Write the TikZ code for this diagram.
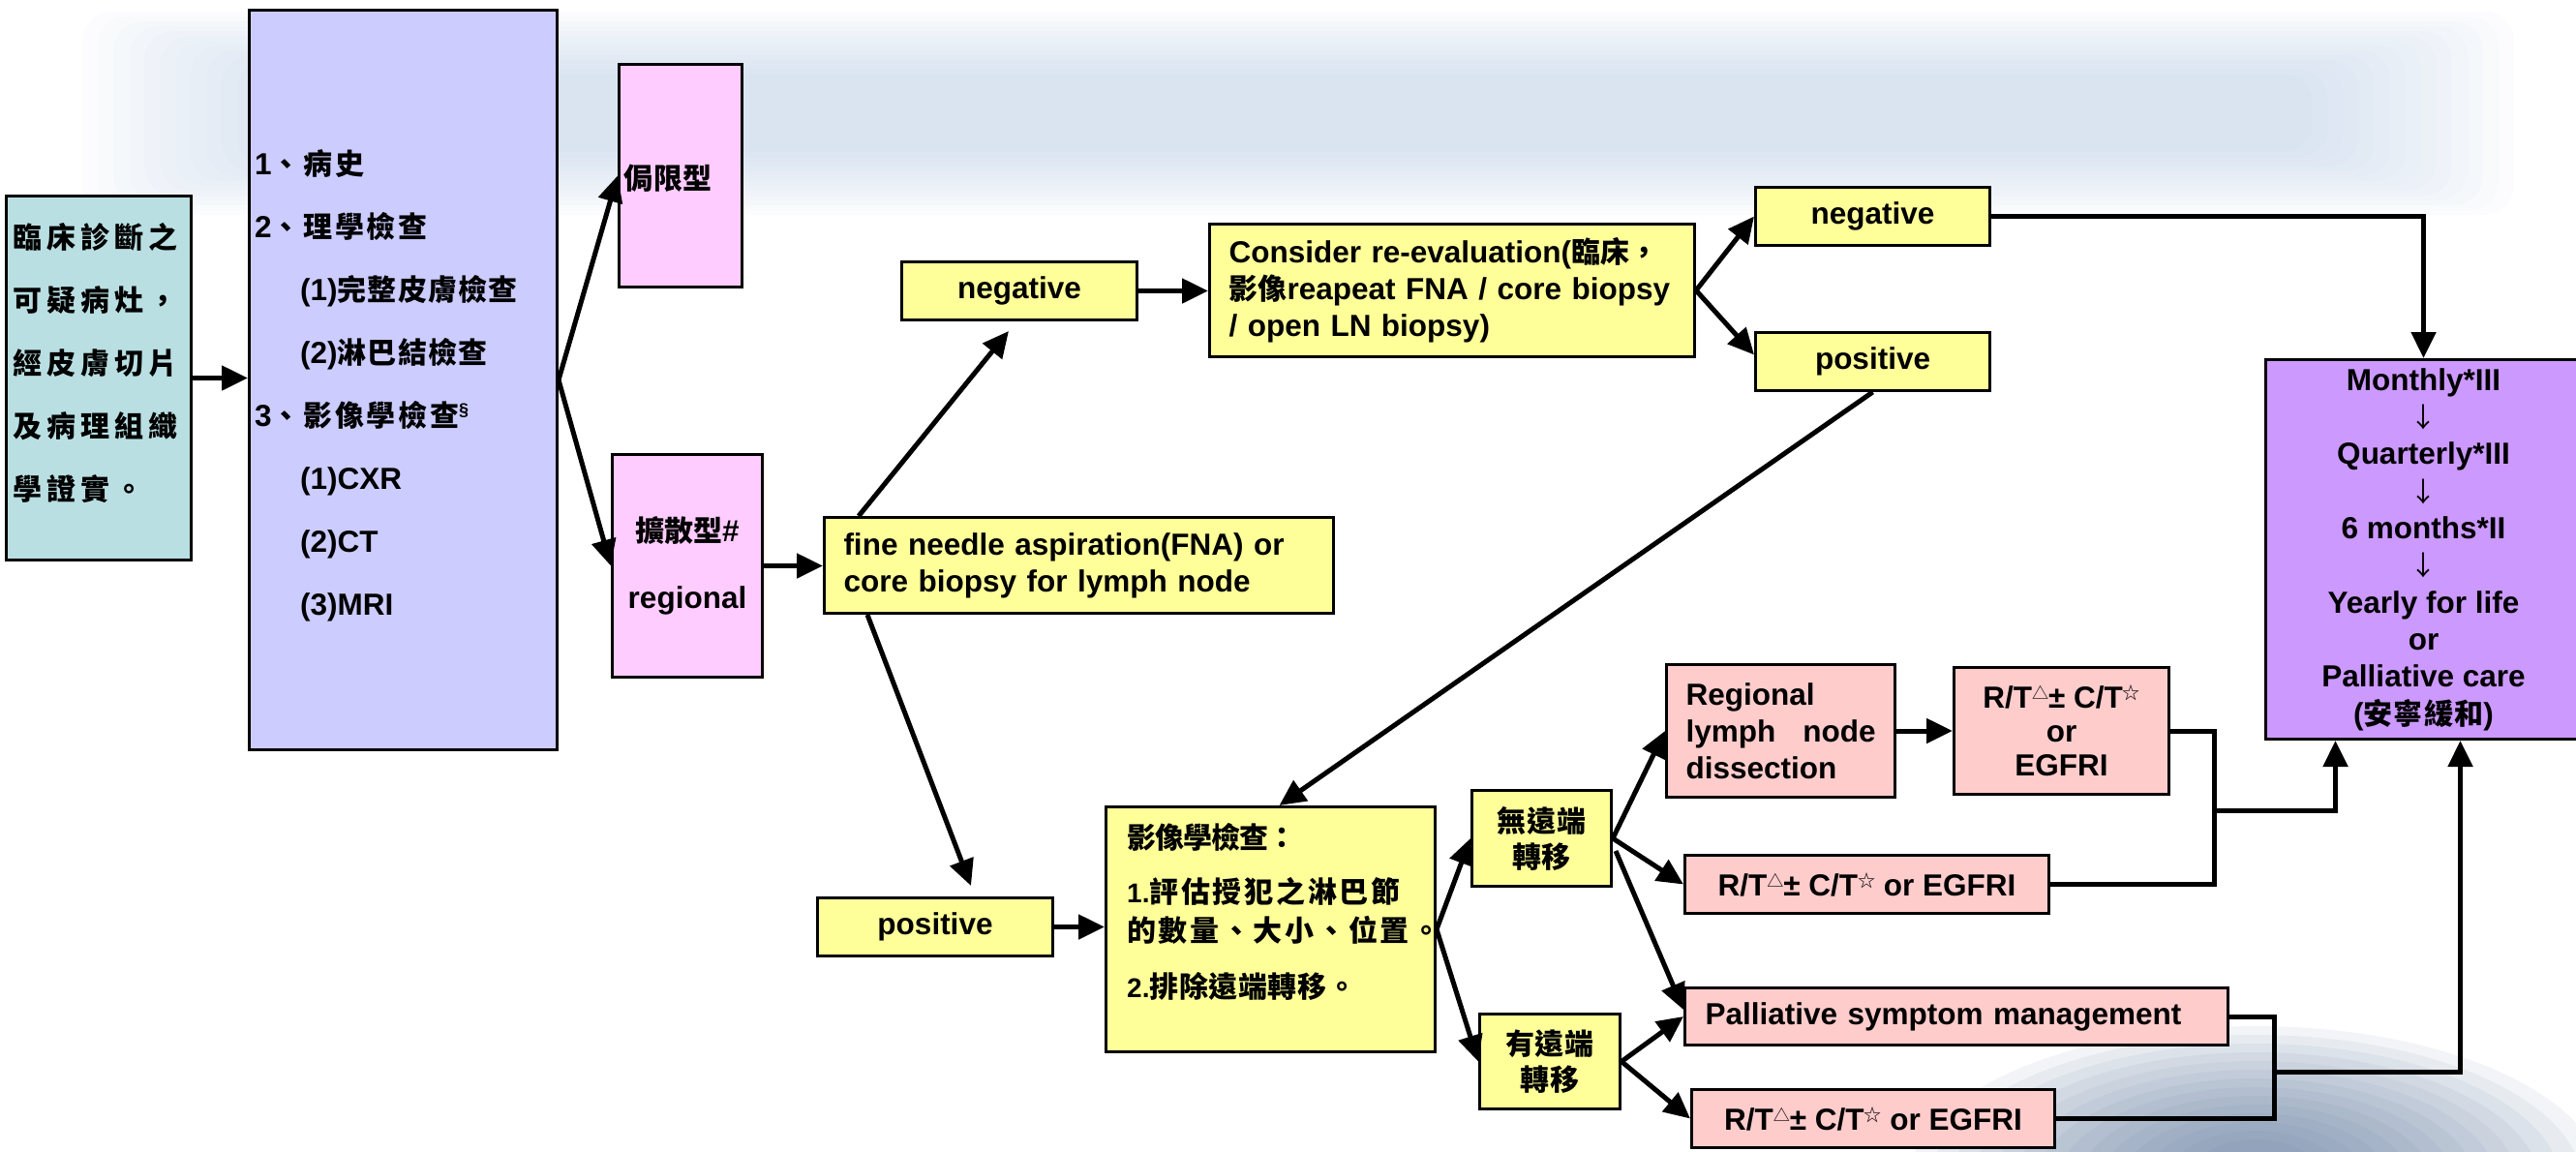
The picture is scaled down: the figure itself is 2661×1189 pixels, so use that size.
\documentclass[tikz,border=0pt]{standalone}
\usepackage{fontspec}
\setmainfont{Liberation Sans}
\newfontfamily\zhfont{Noto Sans CJK TC}
\usetikzlibrary{arrows.meta,calc}
\definecolor{tealbox}{RGB}{185,223,226}
\definecolor{lavbox}{RGB}{204,204,255}
\definecolor{pinkbox}{RGB}{255,204,255}
\definecolor{yelbox}{RGB}{255,255,153}
\definecolor{rosebox}{RGB}{255,204,204}
\definecolor{purpbox}{RGB}{204,153,255}
\definecolor{cloudA}{RGB}{175,197,225}
\definecolor{cloudB}{RGB}{95,120,155}
\newcommand\zhtxt[2][3]{{\fontsize{30}{\baselineskip}\zhfont\bfseries\addfontfeatures{LetterSpace=#1}#2}}
\newcommand\suptri{\raisebox{9pt}{\fontsize{17}{17}\zhfont\mdseries △}}
\newcommand\supstar{\raisebox{9pt}{\fontsize{18}{18}\zhfont\mdseries ☆}}
\newcommand\supsec{\raisebox{11pt}{\fontsize{18}{18}\selectfont §}}
\newcommand\darrow{{\fontsize{28}{38.3}\zhfont\mdseries ↓}}
\newcommand\rtline{R/T\suptri± C/T\supstar}
\tikzset{
    box/.style={draw=black, line width=3pt, anchor=north west, inner sep=0pt,
        font=\bfseries\fontsize{31.5}{38}\selectfont},
    txt/.style={inner sep=0pt, align=left, font=\bfseries\fontsize{31.5}{65}\selectfont},
    arr/.style={line width=5pt, -{Triangle[length=27pt,width=25pt]}},
    link/.style={line width=5pt},
}

\begin{document}
\begin{tikzpicture}[x=1pt,y=-1pt]
\useasboundingbox (0,0) rectangle (2661,1189);
% sky behind the chart
\foreach \i in {0,...,13}
    \fill[cloudA, opacity=0.045, rounded corners=30pt] (85+\i*16,12+\i*5) rectangle (2597-\i*16,222-\i*5);
\foreach \i in {0,...,13}
    \fill[cloudB, opacity=0.08] (2330,1225) ellipse [x radius={360-\i*22}, y radius={165-\i*9}];

% diagnosis and work-up
\node[box, fill=tealbox, minimum width=191pt, minimum height=376pt] (clin) at (5,201) {};
\node[txt, anchor=west, font=\bfseries\fontsize{28}{65}\selectfont] (clinT) at (13,375)
    {\zhtxt[17]{臨床診斷之}\\\zhtxt[17]{可疑病灶，}\\\zhtxt[17]{經皮膚切片}\\\zhtxt[17]{及病理組織}\\\zhtxt[17]{學證實。}};
\node[box, fill=lavbox, minimum width=318pt, minimum height=764pt] (hist) at (256,9) {};
\node[txt, anchor=west] (histT) at (263,398)
    {1\zhtxt[9]{、病史}\\2\zhtxt[9]{、理學檢查}\\
     \hspace*{47pt}(1)\zhtxt[4]{完整皮膚檢查}\\\hspace*{47pt}(2)\zhtxt[4]{淋巴結檢查}\\
     3\zhtxt[9]{、影像學檢查}\supsec\\\hspace*{47pt}(1)CXR\\\hspace*{47pt}(2)CT\\\hspace*{47pt}(3)MRI};
\node[box, fill=pinkbox, minimum width=127pt, minimum height=230pt] (loc) at (638,65) {};
\node[txt, anchor=west] (locT) at (644,184) {\zhtxt{侷限型}};
\node[box, fill=pinkbox, minimum width=155pt, minimum height=230pt, align=center,
    font=\bfseries\fontsize{31.5}{69}\selectfont] (diff) at (631,468) {\zhtxt[0]{擴散型}\#\\regional};

% lymph node work-up
\node[box, fill=yelbox, minimum width=526pt, minimum height=99pt, inner xsep=20pt, text width=486pt, align=left]
    (fna) at (850,533) {fine needle aspiration(FNA) or\\core biopsy for lymph node};
\node[box, fill=yelbox, minimum width=243pt, minimum height=60pt] (negA) at (930,269) {negative};
\node[box, fill=yelbox, minimum width=243pt, minimum height=60pt] (posA) at (843,926) {positive};
\node[box, fill=yelbox, minimum width=501pt, minimum height=137pt, inner xsep=20pt, text width=461pt, align=left]
    (eval) at (1248,230) {Consider re-evaluation(\zhtxt[0]{臨床，}\\\zhtxt[0]{影像}reapeat FNA / core biopsy\\/ open LN biopsy)};
\node[box, fill=yelbox, minimum width=242pt, minimum height=60pt] (negB) at (1812,192) {negative};
\node[box, fill=yelbox, minimum width=242pt, minimum height=60pt] (posB) at (1812,342) {positive};
\node[box, fill=yelbox, minimum width=340pt, minimum height=253pt] (img) at (1141,832) {};
\node[txt, anchor=west, font=\bfseries\fontsize{28}{40}\selectfont] (imgT) at (1164,942)
    {\zhtxt[-3]{影像學檢查：}\\[16pt]1.\zhtxt[9]{評估授犯之淋巴節}\\\zhtxt[9]{的數量、大小、位置。}\\[18pt]2.\zhtxt[2]{排除遠端轉移。}};
\node[box, fill=yelbox, minimum width=144pt, minimum height=99pt, align=center,
    font=\bfseries\fontsize{28}{37}\selectfont] (noM) at (1519,815) {\zhtxt[2]{無遠端}\\\zhtxt[2]{轉移}};
\node[box, fill=yelbox, minimum width=145pt, minimum height=98pt, align=center,
    font=\bfseries\fontsize{28}{37}\selectfont] (yesM) at (1527,1046) {\zhtxt[2]{有遠端}\\\zhtxt[2]{轉移}};

% treatment
\node[box, fill=rosebox, minimum width=236pt, minimum height=137pt, inner xsep=20pt, text width=196pt, align=left]
    (rlnd) at (1720,685) {Regional\\\makebox[196pt][s]{lymph\hfill node}\\dissection};
\node[box, fill=rosebox, minimum width=222pt, minimum height=131pt, align=center,
    font=\bfseries\fontsize{31.5}{35}\selectfont] (rtA) at (2017,688) {\rtline\\or\\EGFRI};
\node[box, fill=rosebox, minimum width=376pt, minimum height=60pt] (rtB) at (1739,882) {\rtline{} or EGFRI};
\node[box, fill=rosebox, minimum width=561pt, minimum height=59pt, inner xsep=21pt, text width=519pt, align=left]
    (pal) at (1739,1019) {Palliative symptom management};
\node[box, fill=rosebox, minimum width=375pt, minimum height=60pt] (rtC) at (1746,1124) {\rtline{} or EGFRI};

% follow-up
\node[box, fill=purpbox, minimum width=326pt, minimum height=392pt, align=center,
    font=\bfseries\fontsize{31.5}{38.3}\selectfont] (fol) at (2339,370)
    {Monthly*III\\\darrow\\Quarterly*III\\\darrow\\6 months*II\\\darrow\\Yearly for life\\or\\Palliative care\\(\zhtxt[4]{安寧緩和})};

% arrows
\draw[arr] (clin.east) -- (clin.east -| hist.west);
\draw[arr] (hist.east) -- (loc.west);
\draw[arr] (hist.east) -- (diff.west);
\draw[arr] (diff.east) -- (diff.east -| fna.west);
\draw[arr] ($(fna.north west)+(37,0)$) -- ($(negA.south)+(-11,10)$);
\draw[arr] ($(fna.south west)+(46,0)$) -- ($(posA.north)+(37,-11)$);
\draw[arr] (negA.east) -- (negA.east -| eval.west);
\draw[arr] (eval.east) -- (negB.west);
\draw[arr] (eval.east) -- ($(posB.west)+(0,-7)$);
\draw[arr] (posB.south) -- ($(img.north)+(9,0)$);
\draw[arr] (posA.east) -- (posA.east -| img.west);
\draw[arr] (img.east) -- (noM.west);
\draw[arr] (img.east) -- (yesM.west);
\draw[arr] (noM.east) -- (rlnd.west);
\draw[arr] (noM.east) -- (rtB.west);
\draw[arr] ($(noM.east)+(3,13)$) -- ($(pal.west)+(0,-7)$);
\draw[arr] (yesM.east) -- (pal.west);
\draw[arr] (yesM.east) -- (rtC.west);
\draw[arr] (rlnd.east) -- (rlnd.east -| rtA.west);
\draw[arr] (negB.east) -| (fol.north);
\coordinate (jA) at (2287,837);
\coordinate (jB) at (2349,1107);
\draw[link] (rtA.east) -| (jA) |- (rtB.east);
\draw[arr] (jA) -| ($(fol.south)+(-91,0)$);
\draw[link] (pal.east) -| (jB) |- (rtC.east);
\draw[arr] (jB) -| ($(fol.south)+(38,0)$);
\end{tikzpicture}
\end{document}
